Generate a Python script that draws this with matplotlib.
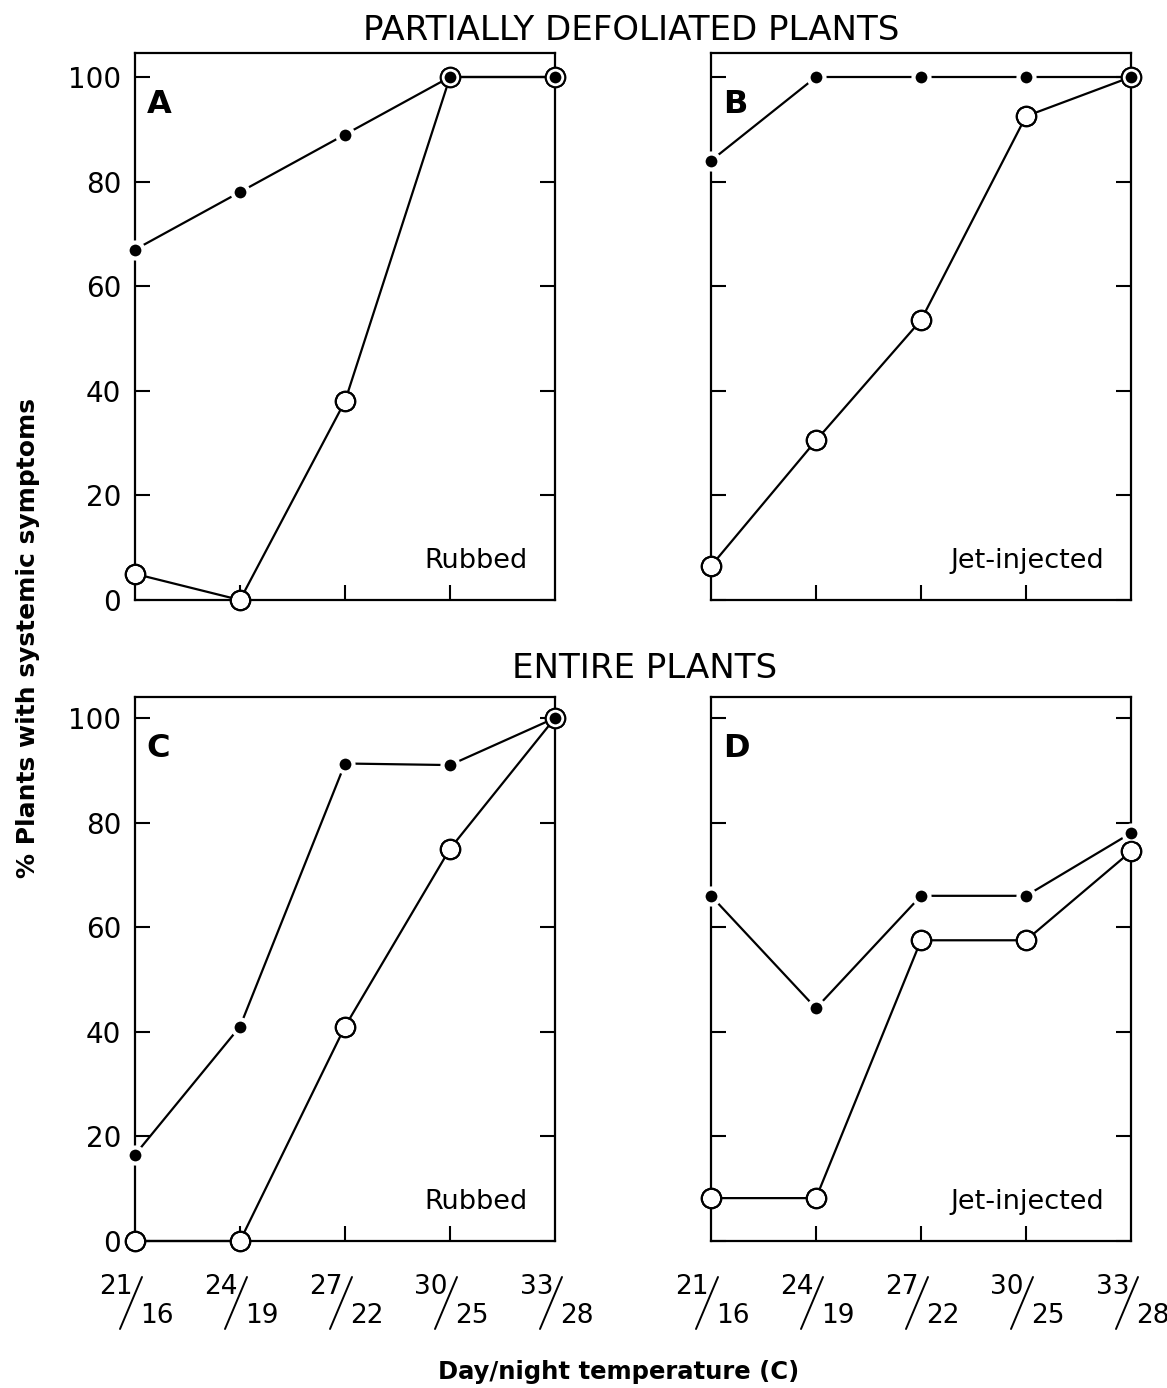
import matplotlib
matplotlib.use('Agg')
import matplotlib.pyplot as plt
from matplotlib.transforms import offset_copy

plt.rcParams['font.family'] = ['DejaVu Sans']

x_pos = [0, 1, 2, 3, 4]
day_temps = ['21', '24', '27', '30', '33']
night_temps = ['16', '19', '22', '25', '28']
y_ticks = [0, 20, 40, 60, 80, 100]

# panel A: partially defoliated, rubbed
a_filled = [67, 78, 89, 100, 100]
a_open = [5, 0, 38, 100, 100]
# panel B: partially defoliated, jet-injected
b_filled = [84, 100, 100, 100, 100]
b_open = [6.5, 30.5, 53.5, 92.5, 100]
# panel C: entire, rubbed
c_filled = [16.5, 41, 91.3, 91, 100]
c_open = [0, 0, 41, 75, 100]
# panel D: entire, jet-injected
d_filled = [66, 44.5, 66, 66, 78]
d_open = [8.2, 8.2, 57.5, 57.5, 74.5]

panels = [
    ('A', 'Rubbed', a_filled, a_open),
    ('B', 'Jet-injected', b_filled, b_open),
    ('C', 'Rubbed', c_filled, c_open),
    ('D', 'Jet-injected', d_filled, d_open),
]

W, H = 1167, 1388
fig = plt.figure(figsize=(W / 100, H / 100), dpi=100)

# axes boxes in pixels: left, top, right, bottom
boxes = [(135, 53, 555, 600), (711, 53, 1131, 600),
         (135, 697, 555, 1241), (711, 697, 1131, 1241)]
y100 = [77, 77, 718, 718]


def draw_panel(ax, letter, method, filled, opened, ytop, labels_left, xlabels):
    kw = dict(clip_on=False)
    # lines
    ax.plot(x_pos, opened, '-', color='black', lw=1.6, zorder=2, **kw)
    ax.plot(x_pos, filled, '-', color='black', lw=1.6, zorder=2, **kw)
    # open circles, white inside
    ax.plot(x_pos, opened, 'o', ms=14, mfc='white', mec='black', mew=1.5,
            zorder=3, **kw)
    # filled dots with a white halo that breaks the lines
    ax.plot(x_pos, filled, 'o', ms=11.5, mfc='black', mec='white', mew=3.0,
            zorder=4, **kw)
    # redraw circle rings on top
    ax.plot(x_pos, opened, 'o', ms=14, mfc='none', mec='black', mew=1.5,
            zorder=5, **kw)
    ax.set_xlim(0, 4)
    ax.set_ylim(0, ytop)
    for s in ax.spines.values():
        s.set_linewidth(1.6)
    ax.set_yticks(y_ticks)
    ax.set_xticks([1, 2, 3])
    ax.tick_params(axis='y', which='both', direction='in', length=11, width=1.5,
                   left=True, right=True, labelsize=20, pad=10,
                   labelleft=labels_left)
    ax.tick_params(axis='x', direction='in', length=11, width=1.5,
                   labelbottom=False, top=False)
    ax.text(0.028, 0.905, letter, transform=ax.transAxes, fontsize=23,
            fontweight='bold', ha='left', va='center')
    ax.text(0.935, 0.072, method, transform=ax.transAxes, fontsize=19.5,
            ha='right', va='center')
    if xlabels:
        tr = ax.get_xaxis_transform()
        for xp, d, n in zip(x_pos, day_temps, night_temps):
            ax.annotate(d, xy=(xp, 0), xycoords=tr, xytext=(-2, -46),
                        textcoords='offset pixels', ha='right', va='center',
                        fontsize=19, annotation_clip=False)
            ax.annotate(n, xy=(xp, 0), xycoords=tr, xytext=(5, -75),
                        textcoords='offset pixels', ha='left', va='center',
                        fontsize=19, annotation_clip=False)
            start = offset_copy(tr, fig=fig, x=-15, y=-88, units='dots')
            ax.annotate('', xy=(xp, 0), xycoords=start, xytext=(22, 52),
                        textcoords='offset pixels', annotation_clip=False,
                        arrowprops=dict(arrowstyle='-', lw=1.4, color='black',
                                        shrinkA=0, shrinkB=0))


for i, (letter, method, filled, opened) in enumerate(panels):
    l, t, r, b = boxes[i]
    ax = fig.add_axes([l / W, 1 - b / H, (r - l) / W, (b - t) / H])
    ytop = 100 * (b - t) / (b - y100[i])
    draw_panel(ax, letter, method, filled, opened, ytop,
               labels_left=(i % 2 == 0), xlabels=(i >= 2))

fig.text(631 / W, 1 - 30 / H, 'PARTIALLY DEFOLIATED PLANTS', fontsize=24.5,
         ha='center', va='center')
fig.text(645 / W, 1 - 668 / H, 'ENTIRE PLANTS', fontsize=24.5,
         ha='center', va='center')
fig.text(28 / W, 1 - 638 / H, '% Plants with systemic symptoms', fontsize=18,
         fontweight='bold', rotation=90, ha='center', va='center')
fig.text(619 / W, 1 - 1372 / H, 'Day/night temperature (C)', fontsize=17.5,
         fontweight='bold', ha='center', va='center')

fig.savefig('out.png', dpi=100)
